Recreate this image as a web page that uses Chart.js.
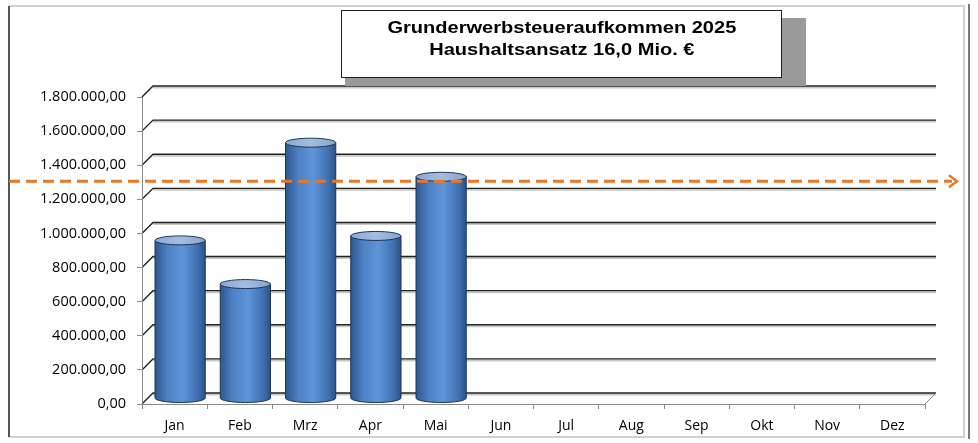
<!DOCTYPE html>
<html>
<head>
<meta charset="utf-8">
<script src="https://cdn.jsdelivr.net/npm/chart.js"></script>
<style>
  body { margin: 0; background: #fff; }
  #wrap { position: relative; width: 978px; height: 443px; }
  #titel {
    position: absolute; left: 341px; top: 10px; width: 439px; height: 66px;
    border: 1px solid #222; background: #fff;
    box-shadow: 24px 8px 0 #9a9a9a, 4px 8px 0 #9a9a9a;
    font-family: "Liberation Sans", Arial, sans-serif; font-weight: bold;
    font-size: 17px; line-height: 22px; text-align: center; color: #000;
  }
  #titel span { display: inline-block; transform: scaleX(1.18); margin-top: 6px; }
</style>
</head>
<body>
<div id="wrap">
  <canvas id="chart" width="978" height="443"></canvas>
  <div id="titel"><span>Grunderwerbsteueraufkommen 2025<br>Haushaltsansatz 16,0 Mio. €</span></div>
</div>
<script>
// Monate + Ist-Werte (nur Jan-Mai vorhanden)
const monate = ['Jan', 'Feb', 'Mrz', 'Apr', 'Mai', 'Jun', 'Jul', 'Aug', 'Sep', 'Okt', 'Nov', 'Dez'];
const aufkommen = [927000, 671000, 1500000, 953000, 1300000, null, null, null, null, null, null, null];
const yTicks = [0, 200000, 400000, 600000, 800000, 1000000, 1200000, 1400000, 1600000, 1800000];
const zielLinie = 1300000; // orange Pfeillinie

const TIEFE = 11; // 3D-Versatz der Rueckwand

function deFormat(v) {
    // 1800000 -> "1.800.000,00"
    const s = Math.round(v).toString().replace(/\B(?=(\d{3})+(?!\d))/g, '.');
    return s + ',00';
}

// Rahmen, Rueckwand, Gitter
const wandPlugin = {
    id: 'wand',
    beforeDraw(chart) {
        const ctx = chart.ctx;
        const a = chart.chartArea;
        const y = chart.scales.y;
        ctx.save();
        // aeusserer Rahmen
        ctx.strokeStyle = '#d0d0d0';
        ctx.lineWidth = 2;
        ctx.beginPath();
        ctx.moveTo(9, 6); ctx.lineTo(964, 6); ctx.lineTo(964, 437); ctx.lineTo(9, 437);
        ctx.stroke();
        ctx.strokeStyle = '#555';
        ctx.lineWidth = 2;
        ctx.beginPath(); ctx.moveTo(9, 6); ctx.lineTo(9, 437); ctx.stroke();
        ctx.strokeStyle = '#777';
        ctx.beginPath(); ctx.moveTo(969, 4); ctx.lineTo(969, 439); ctx.stroke();

        // Gitterlinien (Seitenwand + Rueckwand)
        yTicks.forEach(function (v) {
            const py = y.getPixelForValue(v);
            ctx.strokeStyle = '#c8c8c8';
            ctx.lineWidth = 2;
            ctx.beginPath();
            ctx.moveTo(a.left + TIEFE, py - TIEFE + 1.5); ctx.lineTo(a.right + TIEFE, py - TIEFE + 1.5);
            ctx.stroke();
            ctx.strokeStyle = '#222';
            ctx.lineWidth = 1.4;
            ctx.beginPath();
            ctx.moveTo(a.left, py); ctx.lineTo(a.left + TIEFE, py - TIEFE); ctx.lineTo(a.right + TIEFE, py - TIEFE);
            ctx.stroke();
        });
        // Boden
        ctx.strokeStyle = '#8a8a8a';
        ctx.lineWidth = 1;
        ctx.beginPath();
        ctx.moveTo(a.right, a.bottom); ctx.lineTo(a.right + TIEFE, a.bottom - TIEFE);
        ctx.stroke();
        ctx.restore();
    }
};

// Zylinder statt flacher Balken
const zylinderPlugin = {
    id: 'zylinder',
    afterDatasetsDraw(chart) {
        const ctx = chart.ctx;
        const meta = chart.getDatasetMeta(0);
        const d = TIEFE / 2;
        meta.data.forEach(function (bar, i) {
            if (aufkommen[i] == null) return;
            const cx = bar.x + d;
            const rx = bar.width / 2;
            const ry = 4.5;
            const top = bar.y - d;
            const base = bar.base - d;
            ctx.save();
            const g = ctx.createLinearGradient(cx - rx, 0, cx + rx, 0);
            g.addColorStop(0, '#2e578e');
            g.addColorStop(0.25, '#4d80c4');
            g.addColorStop(0.55, '#5f95da');
            g.addColorStop(0.85, '#4070b2');
            g.addColorStop(1, '#2c5186');
            ctx.fillStyle = g;
            ctx.strokeStyle = '#1d3557';
            ctx.lineWidth = 1;
            ctx.beginPath();
            ctx.moveTo(cx - rx, top);
            ctx.lineTo(cx - rx, base);
            ctx.ellipse(cx, base, rx, ry, 0, Math.PI, 0, true);
            ctx.lineTo(cx + rx, top);
            ctx.closePath();
            ctx.fill();
            ctx.stroke();
            // Deckel
            const gt = ctx.createLinearGradient(cx - rx, 0, cx + rx, 0);
            gt.addColorStop(0, '#8aa9d1');
            gt.addColorStop(0.5, '#a4bde0');
            gt.addColorStop(1, '#87a5cc');
            ctx.fillStyle = gt;
            ctx.strokeStyle = '#1d3557';
            ctx.beginPath();
            ctx.ellipse(cx, top, rx, ry, 0, 0, Math.PI * 2);
            ctx.fill();
            ctx.stroke();
            ctx.restore();
        });
    },
    afterDraw(chart) {
        // orange gestrichelte Pfeillinie
        const ctx = chart.ctx;
        const py = chart.scales.y.getPixelForValue(zielLinie) - 1;
        ctx.save();
        ctx.strokeStyle = '#ea7722';
        ctx.lineWidth = 3;
        ctx.setLineDash([11, 6]);
        ctx.beginPath();
        ctx.moveTo(9, py); ctx.lineTo(952, py);
        ctx.stroke();
        ctx.setLineDash([]);
        ctx.lineWidth = 2.5;
        ctx.beginPath();
        ctx.moveTo(949, py - 6); ctx.lineTo(957, py); ctx.lineTo(949, py + 6);
        ctx.stroke();
        ctx.restore();
    }
};

new Chart(document.getElementById('chart'), {
    type: 'bar',
    data: {
        labels: monate,
        datasets: [{
            label: 'Grunderwerbsteuer',
            data: aufkommen,
            backgroundColor: 'rgba(0,0,0,0)',
            borderWidth: 0,
            barPercentage: 0.77,
            categoryPercentage: 1
        }]
    },
    options: {
        responsive: false,
        animation: false,
        layout: { padding: { top: 97, right: 53, left: 0, bottom: 0 } },
        plugins: { legend: { display: false }, tooltip: { enabled: false }, title: { display: false } },
        scales: {
            x: {
                grid: { display: true, drawOnChartArea: false, tickLength: 5, color: '#8a8a8a', offset: true },
                border: { display: true, color: '#8a8a8a' },
                ticks: { color: '#000', padding: 9, font: { family: 'Open Sans', size: 14 } },
                afterFit(s) { s.height = 39; }
            },
            y: {
                min: 0,
                max: 1800000,
                afterBuildTicks(s) { s.ticks = yTicks.map(v => ({ value: v })); },
                grid: { display: true, drawOnChartArea: false, tickLength: 5, color: '#8a8a8a' },
                border: { display: true, color: '#8a8a8a' },
                ticks: {
                    color: '#000', padding: 11, font: { family: 'Open Sans', size: 14.5 },
                    callback: v => deFormat(v)
                },
                afterFit(s) { s.width = 142; }
            }
        }
    },
    plugins: [wandPlugin, zylinderPlugin]
});
</script>
</body>
</html>
